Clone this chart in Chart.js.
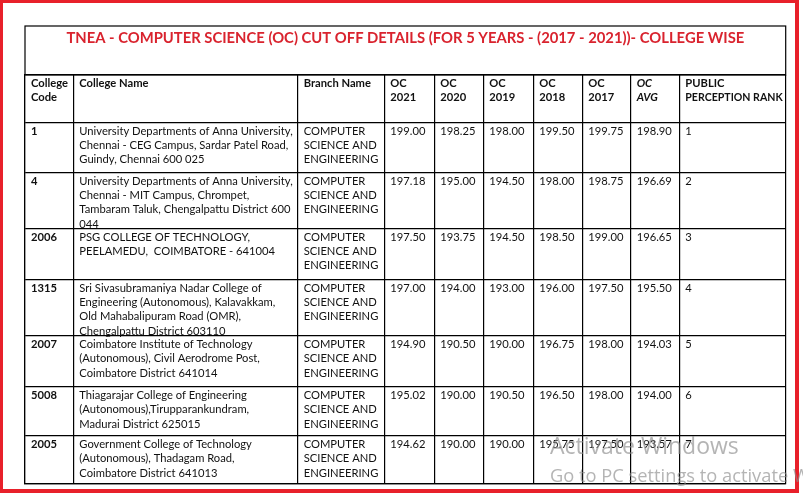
<!DOCTYPE html>
<html>
<head>
<meta charset="utf-8">
<script src="https://cdn.jsdelivr.net/npm/chart.js@4.4.0/dist/chart.umd.min.js"></script>
<style>
  html, body { margin: 0; padding: 0; background: #fff; }
  #wrap { position: relative; width: 803px; height: 499px; overflow: hidden; }
  #frame { position: absolute; left: 0; top: 0; width: 799px; height: 493px; box-sizing: border-box;
           border-style: solid; border-color: #e8202a; border-width: 3px 4px 4px 3px; }
  .wm { position: absolute; font-family: "Open Sans", sans-serif; color: rgba(140,140,140,0.65); white-space: nowrap; }
</style>
</head>
<body>
<div id="wrap">
  <canvas id="cutoffTable" width="803" height="499"></canvas>
  <div id="frame"></div>
  <div class="wm" style="left:550px; top:434px; font-size:23px; line-height:23px;">Activate Windows</div>
  <div class="wm" style="left:550px; top:466px; font-size:18.3px; line-height:18.3px;">Go to PC settings to activate Windows.</div>
</div>
<script>
// table data
const title = "TNEA - COMPUTER SCIENCE (OC) CUT OFF DETAILS (FOR 5 YEARS - (2017 - 2021))- COLLEGE WISE";
const headers = ["College\nCode", "College Name", "Branch Name", "OC\n2021", "OC\n2020", "OC\n2019",
                 "OC\n2018", "OC\n2017", "OC\nAVG", "PUBLIC\nPERCEPTION RANK"];
const collegeCodes = ["1", "4", "2006", "1315", "2007", "5008", "2005"];
const collegeNames = [
  "University Departments of Anna University,\nChennai - CEG Campus, Sardar Patel Road,\nGuindy, Chennai 600 025",
  "University Departments of Anna University,\nChennai - MIT Campus, Chrompet,\nTambaram Taluk, Chengalpattu District 600\n044",
  "PSG COLLEGE OF TECHNOLOGY,\nPEELAMEDU,  COIMBATORE - 641004",
  "Sri Sivasubramaniya Nadar College of\nEngineering (Autonomous), Kalavakkam,\nOld Mahabalipuram Road (OMR),\nChengalpattu District 603110",
  "Coimbatore Institute of Technology\n(Autonomous), Civil Aerodrome Post,\nCoimbatore District 641014",
  "Thiagarajar College of Engineering\n(Autonomous),Tirupparankundram,\nMadurai District 625015",
  "Government College of Technology\n(Autonomous), Thadagam Road,\nCoimbatore District 641013"
];
const branchName = "COMPUTER\nSCIENCE AND\nENGINEERING";
const oc2021 = [199.00, 197.18, 197.50, 197.00, 194.90, 195.02, 194.62];
const oc2020 = [198.25, 195.00, 193.75, 194.00, 190.50, 190.00, 190.00];
const oc2019 = [198.00, 194.50, 194.50, 193.00, 190.00, 190.50, 190.00];
const oc2018 = [199.50, 198.00, 198.50, 196.00, 196.75, 196.50, 195.75];
const oc2017 = [199.75, 198.75, 199.00, 197.50, 198.00, 198.00, 197.50];
const ocAvg  = [198.90, 196.69, 196.65, 195.50, 194.03, 194.00, 193.57];
const perceptionRank = [1, 2, 3, 4, 5, 6, 7];

// layout: column widths and row heights (header row first)
const colWidths = [48.3, 224.4, 86.6, 50, 49, 50, 49, 48.4, 48.6, 106.4];
const rowHeights = [48, 50, 56, 51, 56, 51, 49, 48];

const cumsum = (arr) => arr.reduce((acc, w) => { acc.push(acc[acc.length - 1] + w); return acc; }, [0]);
const xEdges = cumsum(colWidths);
const yEdges = cumsum(rowHeights);

const rows = [headers].concat(collegeCodes.map((code, i) => [
  code, collegeNames[i], branchName,
  oc2021[i].toFixed(2), oc2020[i].toFixed(2), oc2019[i].toFixed(2),
  oc2018[i].toFixed(2), oc2017[i].toFixed(2), ocAvg[i].toFixed(2),
  String(perceptionRank[i])
]));

const FONT = "Lato";
const LINE = 14.3;

const cellText = {
  id: "cellText",
  afterDraw(chart) {
    const { ctx, chartArea, scales: { x, y } } = chart;
    ctx.save();
    // box round the title
    ctx.strokeStyle = "#000";
    ctx.lineWidth = 1.2;
    const tb = chart.titleBlock;
    ctx.strokeRect(chartArea.left, tb.top, chartArea.right - chartArea.left, chartArea.top - tb.top);

    ctx.fillStyle = "#111";
    ctx.textBaseline = "middle";
    ctx.textAlign = "left";
    rows.forEach((cells, r) => {
      cells.forEach((txt, c) => {
        let style = "";
        if (r === 0) style = c === 8 ? "italic bold " : "bold ";
        else if (c === 0) style = "bold ";
        ctx.font = style + "11.2px " + FONT;
        const left = x.getPixelForValue(xEdges[c]);
        const right = x.getPixelForValue(xEdges[c + 1]);
        const top = y.getPixelForValue(yEdges[r]) + 8.3;
        txt.split("\n").forEach((line, i) => ctx.fillText(line, left + 6, top + i * LINE, right - left - 9));
      });
    });
    ctx.restore();
  }
};

const edgeTicks = (edges) => (scale) => { scale.ticks = edges.map((v) => ({ value: v })); };

const config = {
  type: "scatter",
  data: { datasets: [] },
  options: {
    responsive: false,
    animation: false,
    layout: { padding: { left: 25, right: 17.3, top: 26, bottom: 15 } },
    scales: {
      x: {
        min: 0, max: xEdges[xEdges.length - 1],
        afterBuildTicks: edgeTicks(xEdges),
        ticks: { display: false },
        grid: { color: "#000", lineWidth: 1.2, drawTicks: false },
        border: { display: true, color: "#000", width: 1.2 }
      },
      y: {
        reverse: true,
        min: 0, max: yEdges[yEdges.length - 1],
        afterBuildTicks: edgeTicks(yEdges),
        ticks: { display: false },
        grid: { color: "#000", lineWidth: 1.2, drawTicks: false },
        border: { display: true, color: "#000", width: 1.2 }
      }
    },
    plugins: {
      legend: { display: false },
      tooltip: { enabled: false },
      title: {
        display: true,
        text: title,
        color: "#d9232e",
        font: { family: FONT, size: 14.8, weight: "bold", lineHeight: 1.2 },
        padding: { top: 3, bottom: 28.2 }
      }
    }
  },
  plugins: [cellText]
};

new Chart(document.getElementById("cutoffTable"), config);
</script>
</body>
</html>
